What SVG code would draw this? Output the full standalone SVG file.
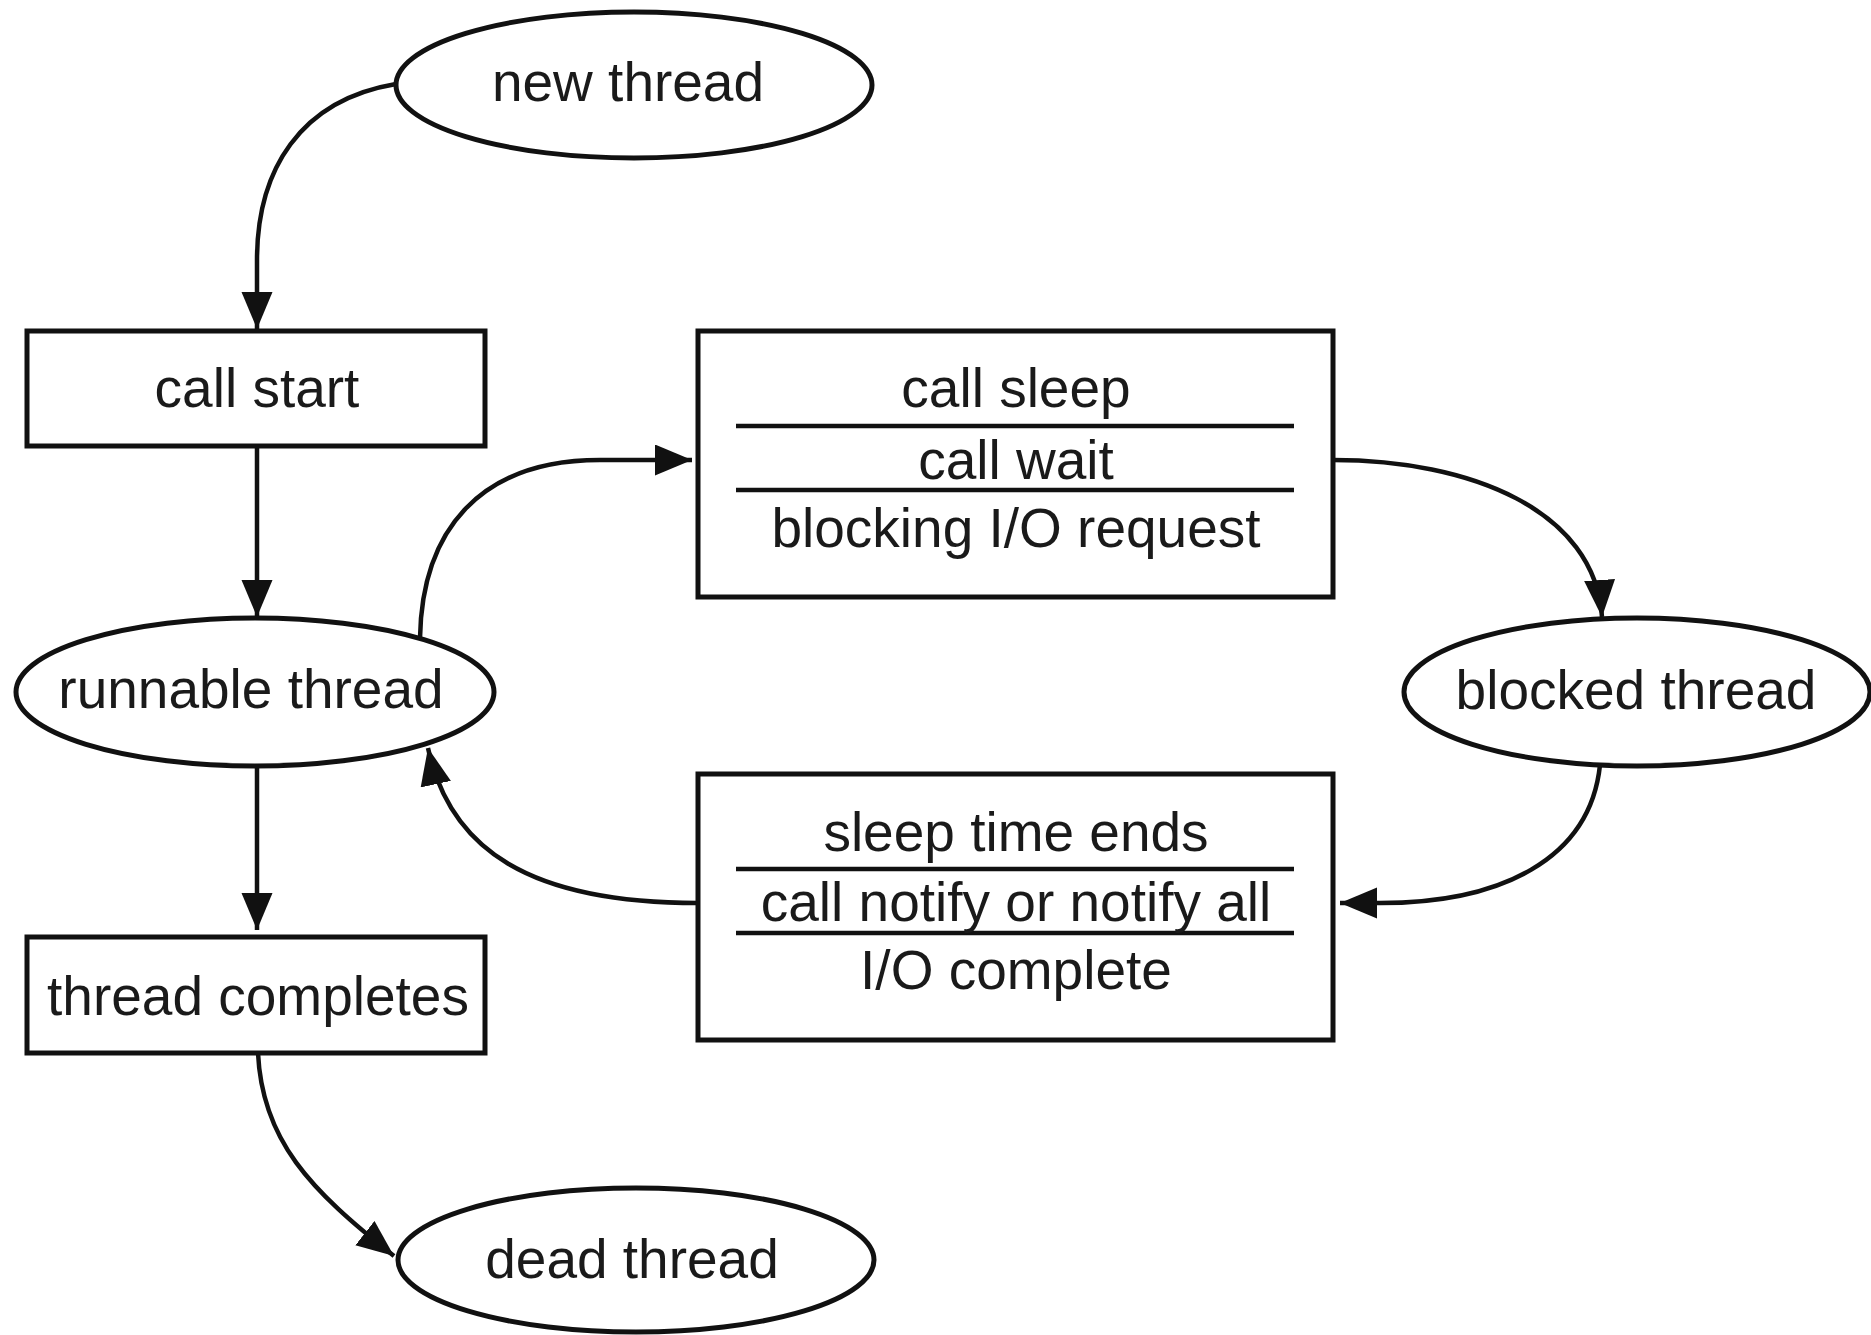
<svg xmlns="http://www.w3.org/2000/svg" width="1871" height="1335" viewBox="0 0 1871 1335">
<style>
.n{fill:#fff;stroke:#111;stroke-width:5}
.d{stroke:#111;stroke-width:4.5}
.t{font-family:"Liberation Sans",Arial,sans-serif;font-size:55px;fill:#1a1a1a;text-anchor:middle}
.c{fill:none;stroke:#111;stroke-width:4.5}
</style>
<defs>
<marker id="ah" markerUnits="userSpaceOnUse" markerWidth="40" markerHeight="34" refX="37" refY="15.5" orient="auto">
<path d="M0,0 L37,15.5 L0,31 z" fill="#111"/>
</marker>
</defs>
<rect width="1871" height="1335" fill="#fff"/>
<g id="connectors">
<path class="c" d="M396,84 C300,100 257,170 257,260 L257,329" marker-end="url(#ah)"/>
<path class="c" d="M257,446 L257,617" marker-end="url(#ah)"/>
<path class="c" d="M257,766 L257,930" marker-end="url(#ah)"/>
<path class="c" d="M258,1053 C262,1140 310,1190 394,1256" marker-end="url(#ah)"/>
<path class="c" d="M420,638 C422,530 480,460 600,460 L692,460" marker-end="url(#ah)"/>
<path class="c" d="M1333,460 C1470,460 1595,510 1602,617" marker-end="url(#ah)"/>
<path class="c" d="M1600,765 C1590,860 1500,903 1380,903 L1340,903" marker-end="url(#ah)"/>
<path class="c" d="M698,903 C530,903 450,850 428,748" marker-end="url(#ah)"/>
</g>
<g id="new-thread">
<ellipse class="n" cx="634" cy="85" rx="238" ry="73"/>
<text class="t" x="628" y="101">new thread</text>
</g>
<g id="call-start">
<rect class="n" x="27" y="331" width="458" height="115"/>
<text class="t" x="257" y="407">call start</text>
</g>
<g id="runnable-thread">
<ellipse class="n" cx="255" cy="692" rx="239" ry="74"/>
<text class="t" x="251" y="708">runnable thread</text>
</g>
<g id="thread-completes">
<rect class="n" x="27" y="937" width="458" height="116"/>
<text class="t" x="258" y="1015">thread completes</text>
</g>
<g id="dead-thread">
<ellipse class="n" cx="636" cy="1260" rx="238" ry="72"/>
<text class="t" x="632" y="1278">dead thread</text>
</g>
<g id="block-causes">
<rect class="n" x="698" y="331" width="635" height="266"/>
<line class="d" x1="736" y1="426" x2="1294" y2="426"/>
<line class="d" x1="736" y1="490" x2="1294" y2="490"/>
<text class="t" x="1016" y="407">call sleep</text>
<text class="t" x="1016" y="479">call wait</text>
<text class="t" x="1016" y="547">blocking I/O request</text>
</g>
<g id="blocked-thread">
<ellipse class="n" cx="1637" cy="692" rx="233" ry="74"/>
<text class="t" x="1636" y="709">blocked thread</text>
</g>
<g id="unblock-causes">
<rect class="n" x="698" y="774" width="635" height="266"/>
<line class="d" x1="736" y1="869" x2="1294" y2="869"/>
<line class="d" x1="736" y1="933" x2="1294" y2="933"/>
<text class="t" x="1016" y="851">sleep time ends</text>
<text class="t" x="1016" y="921">call notify or notify all</text>
<text class="t" x="1016" y="989">I/O complete</text>
</g>
</svg>
